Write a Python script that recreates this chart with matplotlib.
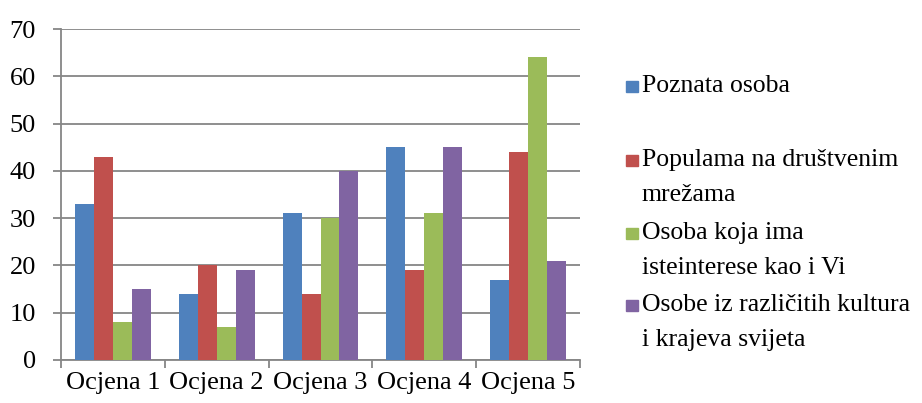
import numpy as np
import matplotlib
matplotlib.use('Agg')
import matplotlib.pyplot as plt
from matplotlib.patches import Rectangle

plt.rcParams['font.family'] = ['Liberation Serif', 'DejaVu Serif']

categories = ['Ocjena 1', 'Ocjena 2', 'Ocjena 3', 'Ocjena 4', 'Ocjena 5']
series_names = ['Poznata osoba',
                'Populama na društvenim\nmrežama',
                'Osoba koja ima\nisteinterese kao i Vi',
                'Osobe iz različitih kultura\ni krajeva svijeta']
poznata = [33, 14, 31, 45, 17]
popularna = [43, 20, 14, 19, 44]
interesi = [8, 7, 30, 31, 64]
kulture = [15, 19, 40, 45, 21]
colors = ['#4F81BD', '#C0504D', '#9BBB59', '#8064A2']

fig = plt.figure(figsize=(9.22, 4.03), dpi=100)
ax = fig.add_axes([61 / 922, 43 / 403, 519 / 922, 331 / 403])

x = np.arange(len(categories))
w = 0.183
for i, vals in enumerate([poznata, popularna, interesi, kulture]):
    ax.bar(x + (i - 1.5) * w, vals, width=w, color=colors[i], zorder=3)

ax.set_xlim(-0.5, len(categories) - 0.5)
ax.set_ylim(0, 70)
ax.set_yticks(range(0, 71, 10))
ax.grid(axis='y', color='#868686', linewidth=1.3, zorder=0)
for s in ['top', 'right']:
    ax.spines[s].set_visible(False)
for s in ['left', 'bottom']:
    ax.spines[s].set_color('#868686')
    ax.spines[s].set_linewidth(1.3)

ax.set_xticks(x)
ax.set_xticklabels(categories, fontsize=19)
ax.tick_params(axis='x', length=0, pad=9)
ax.set_xticks(np.arange(-0.5, len(categories)), minor=True)
ax.tick_params(axis='x', which='minor', length=6, color='#868686', width=1.3)
ax.tick_params(axis='y', length=6, color='#868686', width=1.3, labelsize=19, pad=12)

# legend drawn by hand to keep the Excel-style layout (first-line baselines in px)
entry_y = [92, 166, 239, 311]
line_gap = 35
for name, col, yy in zip(series_names, colors, entry_y):
    fig.patches.append(Rectangle((626 / 922, 1 - yy / 403), 12 / 922, 11 / 403,
                                 transform=fig.transFigure, color=col))
    for k, line in enumerate(name.split('\n')):
        fig.text(642 / 922, 1 - (yy + k * line_gap) / 403, line, fontsize=18.5,
                 va='baseline', transform=fig.transFigure)

fig.savefig('out.png', dpi=100)
